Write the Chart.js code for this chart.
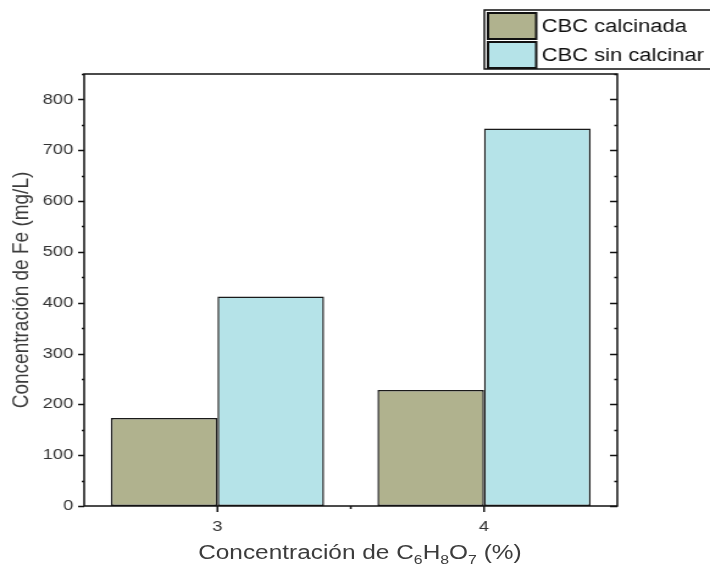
<!DOCTYPE html>
<html>
<head>
<meta charset="utf-8">
<script src="https://cdn.jsdelivr.net/npm/chart.js@4"></script>
<style>
  html, body { margin: 0; padding: 0; background: #fff; overflow: hidden; }
  /* the source figure is stretched sideways, so the whole drawing is too */
  #wrap { position: relative; width: 582px; height: 571px; transform: scaleX(1.22); transform-origin: 0 0; }
  #chart { display: block; }
  #xtitle {
    position: absolute; left: 0; width: 590px; top: 541px;
    text-align: center; font-family: Arial, 'Liberation Sans', sans-serif;
    font-size: 20px; color: #3c3c3c; line-height: 22px;
  }
  #xtitle sub { font-size: 13px; vertical-align: -5px; line-height: 0; }
</style>
</head>
<body>
<div id="wrap">
  <canvas id="chart" width="582" height="571"></canvas>
  <div id="xtitle">Concentración de C<sub>6</sub>H<sub>8</sub>O<sub>7</sub> (%)</div>
</div>
<script>
// data
const categories = ['3', '4'];
const calcinada = [173, 228];
const sinCalcinar = [412, 743];
const seriesNames = ['CBC calcinada', 'CBC sin calcinar'];
const colors = ['#b0b28e', '#b5e3e8'];
const yMax = 850;

const FONT = "Arial, 'Liberation Sans', sans-serif";

// axis box, tick marks and legend drawn by hand
const framePlugin = {
    id: 'frame',
    afterDraw(chart) {
        const ctx = chart.ctx;
        const a = chart.chartArea;
        const y = chart.scales.y;
        const x = chart.scales.x;
        ctx.save();
        ctx.strokeStyle = '#111';
        ctx.lineWidth = 1.5;
        ctx.strokeRect(a.left, a.top, a.right - a.left, a.bottom - a.top);

        for (let v = 0; v <= yMax; v += 50) {
            const py = Math.round(y.getPixelForValue(v)) + 0.5;
            const major = v % 100 === 0;
            ctx.beginPath();
            ctx.moveTo(a.left - (major ? 5 : 2), py); ctx.lineTo(a.left, py);
            ctx.moveTo(a.right, py); ctx.lineTo(a.right - (major ? 6 : 2.5), py);
            ctx.stroke();
        }
        const xs = categories.map((c, i) => x.getPixelForValue(i));
        xs.forEach(px => {
            ctx.beginPath();
            ctx.moveTo(px, a.bottom); ctx.lineTo(px, a.bottom + 6);
            ctx.stroke();
        });
        const mid = (xs[0] + xs[1]) / 2;
        ctx.beginPath();
        ctx.moveTo(mid, a.bottom); ctx.lineTo(mid, a.bottom + 3);
        ctx.stroke();

        // legend
        ctx.fillStyle = '#fff';
        ctx.fillRect(397, 10, 190, 59);
        ctx.strokeStyle = '#111';
        ctx.lineWidth = 1.5;
        ctx.strokeRect(397, 10, 190, 59);
        ctx.font = '18px ' + FONT;
        ctx.textBaseline = 'middle';
        chart.data.datasets.forEach((ds, i) => {
            const top = 13 + i * 29;
            ctx.fillStyle = ds.backgroundColor;
            ctx.fillRect(400, top, 39.5, 26);
            ctx.lineWidth = 2;
            ctx.strokeRect(400, top, 39.5, 26);
            ctx.fillStyle = '#111';
            ctx.fillText(ds.label, 444, top + 14);
        });
        ctx.restore();
    }
};

new Chart(document.getElementById('chart').getContext('2d'), {
    type: 'bar',
    data: {
        labels: categories,
        datasets: [
            { label: seriesNames[0], data: calcinada, backgroundColor: colors[0] },
            { label: seriesNames[1], data: sinCalcinar, backgroundColor: colors[1] }
        ]
    },
    options: {
        responsive: false,
        animation: false,
        layout: { padding: { left: 0, top: 74, right: 76, bottom: 0 } },
        datasets: {
            bar: {
                categoryPercentage: 0.8,
                barPercentage: 1.0,
                borderColor: '#1a1a1a',
                borderWidth: 1.5,
                borderSkipped: false
            }
        },
        scales: {
            x: {
                offset: true,
                grid: { display: false, drawTicks: false },
                border: { display: false },
                ticks: { color: '#333', font: { family: FONT, size: 15 }, padding: 12 },
                afterFit(s) { s.height = 65; }
            },
            y: {
                min: 0,
                max: yMax,
                grid: { display: false, drawTicks: false },
                border: { display: false },
                ticks: {
                    stepSize: 100,
                    color: '#333',
                    font: { family: FONT, size: 15 },
                    padding: 9,
                    callback: v => (v % 100 === 0 ? v : '')
                },
                title: {
                    display: true,
                    text: 'Concentración de Fe (mg/L)',
                    color: '#3c3c3c',
                    font: { family: FONT, size: 19 },
                    padding: { top: 6, bottom: 0 }
                },
                afterFit(s) { s.width = 69; }
            }
        },
        plugins: {
            legend: { display: false },
            tooltip: { enabled: false }
        }
    },
    plugins: [framePlugin]
});
</script>
</body>
</html>
